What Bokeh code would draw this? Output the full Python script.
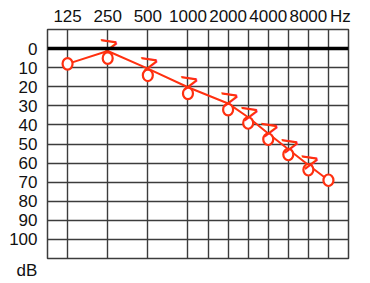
import math
from bokeh.plotting import figure
from bokeh.models import Range1d, FixedTicker, Span, Title, ColumnDataSource
from bokeh.core.properties import value
from bokeh.embed import file_html
from bokeh.resources import INLINE

# ---- data ----
top_freqs = [125, 250, 500, 1000, 2000, 4000, 8000]
top_labels = ["125", "250", "500", "1000", "2000", "4000", "8000"]
grid_freqs = [125, 250, 500, 1000, 1500, 2000, 3000, 4000, 6000, 8000, 12000]
db_ticks = [0, 10, 20, 30, 40, 50, 60, 70, 80, 90, 100]

o_freqs = [125, 250, 500, 1000, 2000, 3000, 4000, 6000, 8000, 12000]
o_db = [8, 5, 14, 23.5, 32, 39, 47.5, 55.5, 63.5, 69]
b_freqs = [250, 500, 1000, 2000, 3000, 4000, 6000, 8000]
b_db = [-2.5, 7, 17, 25.5, 33, 41.5, 50, 58.5]

RED = "#ff3010"
GRID = "#3c3c3c"
FONT = "Liberation Sans"


def apos(f):
    """audiogram position: octaves 2 units apart, inter-octaves halfway"""
    k = math.log2(f / 125)
    if abs(k - round(k)) < 1e-9:
        return 2 * k
    return 2 * math.log2(f / 1.5 / 125) + 1


p = figure(width=370, height=283, output_backend="svg", toolbar_location=None,
           x_axis_location="above",
           x_range=Range1d(-1, 14), y_range=Range1d(110, -10),
           min_border_left=47, min_border_right=22, min_border_top=29, min_border_bottom=25)
p.background_fill_color = "white"
p.border_fill_color = "white"
p.outline_line_color = GRID
p.outline_line_width = 1.5

# "dB" unit label under the dB scale
p.add_layout(Title(text="dB", align="left", offset=-31, standoff=0,
                   text_font=FONT, text_font_size="17px", text_font_style="normal",
                   text_color="#111111"), "below")

# grids
p.xgrid.ticker = FixedTicker(ticks=[apos(f) for f in grid_freqs])
p.ygrid.ticker = FixedTicker(ticks=db_ticks)
for g in (p.xgrid[0], p.ygrid[0]):
    g.grid_line_color = GRID
    g.grid_line_width = 1.4

p.add_layout(Span(location=0, dimension="width", line_color="black", line_width=3.5))

# top axis
xa = p.xaxis[0]
hz_pos = 13.6
xa.ticker = FixedTicker(ticks=[apos(f) for f in top_freqs] + [hz_pos])
ov = {apos(f): lab for f, lab in zip(top_freqs, top_labels)}
ov[hz_pos] = "Hz"
xa.major_label_overrides = ov
xa.axis_line_color = None
xa.major_tick_line_color = None
xa.minor_tick_line_color = None
xa.major_tick_out = 0
xa.major_tick_in = 0
xa.major_label_standoff = 4
xa.major_label_text_font = FONT
xa.major_label_text_font_size = "17px"
xa.major_label_text_color = "#111111"

ya = p.yaxis[0]
ya.ticker = FixedTicker(ticks=db_ticks)
ya.axis_line_color = None
ya.major_tick_line_color = None
ya.minor_tick_line_color = None
ya.major_tick_out = 0
ya.major_tick_in = 0
ya.major_label_standoff = 10
ya.major_label_text_font = FONT
ya.major_label_text_font_size = "17px"
ya.major_label_text_color = "#111111"

# connecting line through the mean of the two symbols at each frequency
line_f = []
line_y = []
for f, v in zip(o_freqs, o_db):
    vals = [v] + [b for bf, b in zip(b_freqs, b_db) if bf == f]
    line_f.append(apos(f))
    line_y.append(sum(vals) / len(vals))
p.line(line_f, line_y, line_color=RED, line_width=2)

# symbols
osrc = ColumnDataSource(dict(x=[apos(f) for f in o_freqs], y=o_db))
p.ellipse("x", "y", width=10, height=11.5, width_units="screen", height_units="screen",
          source=osrc, fill_color="white", line_color=RED, line_width=2.2)

bsrc = ColumnDataSource(dict(x=[apos(f) for f in b_freqs], y=b_db, t=[">"] * len(b_freqs)))
p.text("x", "y", text="t", source=bsrc, text_font=value(FONT), text_font_size="30px",
       text_color=RED, text_align="center", text_baseline="middle",
       angle=0.25, x_offset=2, y_offset=0)

open("out.html", "w").write(file_html(p, INLINE))
